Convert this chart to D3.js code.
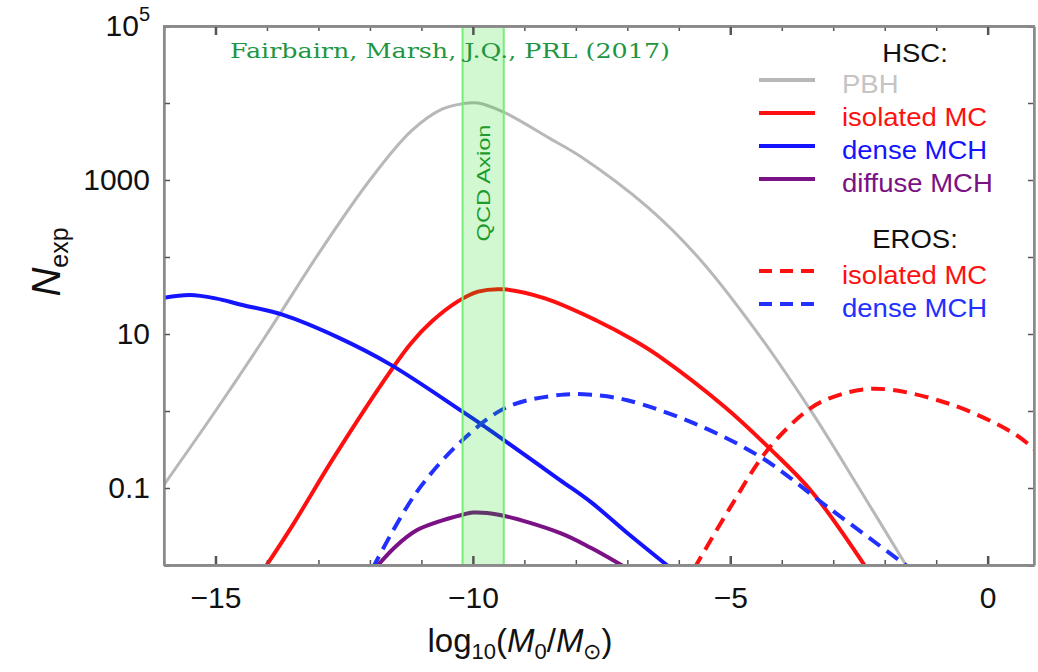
<!DOCTYPE html>
<html>
<head>
<meta charset="utf-8">
<script src="https://cdn.jsdelivr.net/npm/d3@7.9.0/dist/d3.min.js"></script>
<style>
  body { margin: 0; background: #fff; }
  svg { display: block; }
</style>
</head>
<body>
<svg id="chart" width="1038" height="672" font-family="Liberation Sans, Arial, sans-serif"></svg>
<script>
// HSC curves (solid)
const pbhX = [-16, -15, -14, -13, -12, -11.2, -10.6, -10.2, -9.9, -9.4, -8.5, -7.9, -6.6, -5.6, -4.5, -3.4, -2.5, -1.5];
const pbhN = [0.11, 1.0, 10, 110, 1000, 4300, 8300, 9800, 10000, 7600, 3450, 2000, 440, 95, 11, 0.93, 0.1, 0.008];

const isoX = [-14.05, -13.5, -12.7, -11.6, -11.2, -10.8, -10.3, -9.9, -9.4, -8.6, -7.6, -6.9, -6.4, -5.1, -4.2, -3.4, -2.35];
const isoN = [0.009, 0.033, 0.25, 3.3, 7.6, 14.5, 26.3, 35.5, 38, 29, 15, 8.5, 5.25, 1.12, 0.31, 0.087, 0.009];

const denseX = [-16, -15.5, -15, -14.5, -13.7, -12.6, -11.6, -10.2, -9.86, -8.3, -7.7, -7.0, -6.15];
const denseN = [29.5, 32, 29, 24, 17.8, 8.9, 4.0, 0.98, 0.69, 0.126, 0.065, 0.026, 0.009];

const diffX = [-11.9, -11.5, -11.1, -10.7, -10.2, -10.0, -9.5, -8.3, -7.7, -7.0];
const diffN = [0.009, 0.0174, 0.028, 0.036, 0.045, 0.048, 0.045, 0.026, 0.0166, 0.009];

// EROS curves (dashed)
const erosIsoX = [-5.7, -5.0, -4.28, -3.5, -3.05, -2.2, -0.78, 0.51, 0.95];
const erosIsoN = [0.009, 0.056, 0.31, 1.02, 1.48, 1.95, 1.26, 0.51, 0.30];

const erosDenseX = [-11.95, -11.1, -10.2, -9.34, -8.3, -7.7, -7.0, -5.7, -4.4, -3.1, -1.5];
const erosDenseN = [0.009, 0.087, 0.42, 1.12, 1.62, 1.62, 1.38, 0.69, 0.25, 0.056, 0.009];

const axionBand = [-10.2, -9.4];
const xMajorTicks = [-15, -10, -5, 0];
const yTicks = [0.01, 0.1, 1, 10, 100, 1000, 1e4, 1e5];
const yLabelled = [0.1, 10, 1000, 1e5];

const series = [
  { x: pbhX, n: pbhN, color: "#b8b8b8", width: 3, dash: null },
  { x: isoX, n: isoN, color: "#ff1010", width: 4, dash: null },
  { x: denseX, n: denseN, color: "#1414ff", width: 4, dash: null },
  { x: diffX, n: diffN, color: "#7a1184", width: 4, dash: null },
  { x: erosIsoX, n: erosIsoN, color: "#ff1010", width: 4, dash: "14,8" },
  { x: erosDenseX, n: erosDenseN, color: "#2230ff", width: 4, dash: "14,8" }
];

const legendHSC = [
  { label: "PBH", color: "#b8b8b8", text: "#c4c4c4", dash: null },
  { label: "isolated MC", color: "#ff1010", text: "#ff1010", dash: null },
  { label: "dense MCH", color: "#1414ff", text: "#1414ff", dash: null },
  { label: "diffuse MCH", color: "#7a1184", text: "#7a1184", dash: null }
];
const legendEROS = [
  { label: "isolated MC", color: "#ff1010", text: "#ff1010", dash: "13,8" },
  { label: "dense MCH", color: "#2230ff", text: "#2230ff", dash: "13,8" }
];

const svg = d3.select("#chart");
const pl = 164, pr = 1034, pt = 26, pb = 565;

const x = d3.scaleLinear().domain([-16, 0.9]).range([pl, pr]);
const y = d3.scaleLog().domain([0.01, 1e5]).range([pb, pt]);

// stretch text horizontally a bit, like the slide image
function stretch(sel, k) {
  sel.each(function () {
    const w = this.getComputedTextLength();
    d3.select(this).attr("textLength", w * k).attr("lengthAdjust", "spacingAndGlyphs");
  });
}

svg.append("clipPath").attr("id", "plotclip")
  .append("rect").attr("x", pl).attr("y", pt).attr("width", pr - pl).attr("height", pb - pt);

const plot = svg.append("g").attr("clip-path", "url(#plotclip)");

const line = d3.line()
  .x(d => x(d[0]))
  .y(d => y(d[1]))
  .curve(d3.curveCatmullRom.alpha(0.5));

series.forEach(s => {
  plot.append("path")
    .attr("d", line(d3.zip(s.x, s.n)))
    .attr("fill", "none")
    .attr("stroke", s.color)
    .attr("stroke-width", s.width)
    .attr("stroke-dasharray", s.dash);
});

// QCD axion band, drawn over the curves
plot.append("rect")
  .attr("x", x(axionBand[0]))
  .attr("width", x(axionBand[1]) - x(axionBand[0]))
  .attr("y", pt).attr("height", pb - pt)
  .attr("fill", "rgb(0,215,0)").attr("fill-opacity", 0.18);
axionBand.forEach(v => {
  plot.append("line")
    .attr("x1", x(v)).attr("x2", x(v))
    .attr("y1", pt).attr("y2", pb)
    .attr("stroke", "#77ee77").attr("stroke-width", 2);
});
const qcd = svg.append("text")
  .attr("transform", `translate(${(x(axionBand[0]) + x(axionBand[1])) / 2 + 7},183) rotate(-90)`)
  .attr("text-anchor", "middle")
  .attr("font-size", 19)
  .attr("fill", "#1f9a2c")
  .text("QCD Axion");
qcd.attr("textLength", 117).attr("lengthAdjust", "spacingAndGlyphs");

// axes
const axisColor = "#8a8a8a";
function styleAxis(g) {
  g.select(".domain").attr("stroke", axisColor).attr("stroke-width", 2.5);
  g.selectAll(".tick line").attr("stroke", "#555").attr("stroke-width", 1.5);
}

const minorX = d3.range(-16, 1).filter(v => !xMajorTicks.includes(v));

[["bottom", pb], ["top", pt]].forEach(([side, pos]) => {
  const mk = side === "bottom" ? d3.axisBottom : d3.axisTop;
  svg.append("g").attr("transform", `translate(0,${pos})`)
    .call(mk(x).tickValues(minorX).tickSize(-5).tickSizeOuter(0).tickFormat(""))
    .call(styleAxis);
  const g = svg.append("g").attr("transform", `translate(0,${pos})`)
    .call(mk(x).tickValues(xMajorTicks).tickSize(-9).tickSizeOuter(0).tickPadding(22)
      .tickFormat(d => side === "bottom" ? (d < 0 ? "\u2212" + (-d) : d) : ""))
    .call(styleAxis);
  g.selectAll(".tick line").attr("stroke-width", 2.5);
  g.selectAll("text").attr("font-size", 30).attr("fill", "#111")
    .attr("font-family", "Liberation Sans, Arial, sans-serif");
});

[["left", pl], ["right", pr]].forEach(([side, pos]) => {
  const mk = side === "left" ? d3.axisLeft : d3.axisRight;
  const g = svg.append("g").attr("transform", `translate(${pos},0)`)
    .call(mk(y).tickValues(yTicks).tickSize(-6).tickSizeOuter(0).tickPadding(14)
      .tickFormat(d => side === "left" && yLabelled.includes(d) ? (d >= 1 ? d3.format("d")(d) : String(d)) : ""))
    .call(styleAxis);
  g.selectAll("text").attr("font-size", 30).attr("fill", "#111")
    .attr("font-family", "Liberation Sans, Arial, sans-serif");
  if (side === "left") {
    g.selectAll(".tick").filter(d => d === 1e5).select("text")
      .text(null)
      .call(t => {
        t.append("tspan").text("10");
        t.append("tspan").attr("font-size", 20).attr("dy", "-0.75em").text("5");
      });
  }
});

// frame
svg.append("rect").attr("x", pl).attr("y", pt).attr("width", pr - pl).attr("height", pb - pt)
  .attr("fill", "none").attr("stroke", axisColor).attr("stroke-width", 2);

// citation
const cite = svg.append("text")
  .attr("x", 230).attr("y", 58)
  .attr("font-family", "DejaVu Serif, serif")
  .attr("font-size", 20)
  .attr("fill", "#1e9640")
  .text("Fairbairn, Marsh, J.Q., PRL (2017)");
cite.attr("textLength", 440).attr("lengthAdjust", "spacingAndGlyphs");

// legend
const lg = svg.append("g");
function legendBlock(title, items, titleY, startY, step) {
  const t = lg.append("text").attr("x", 915).attr("y", titleY).attr("text-anchor", "middle")
    .attr("font-size", 25).attr("fill", "#111").text(title);
  stretch(t, 1.1);
  items.forEach((d, i) => {
    const cy = startY + i * step;
    lg.append("line").attr("x1", 759).attr("x2", 815).attr("y1", cy).attr("y2", cy)
      .attr("stroke", d.color).attr("stroke-width", 4).attr("stroke-dasharray", d.dash);
    const tx = lg.append("text").attr("x", 842).attr("y", cy + 4).attr("dy", "0.35em")
      .attr("font-size", 25).attr("fill", d.text).text(d.label);
    stretch(tx, 1.1);
  });
}
legendBlock("HSC:", legendHSC, 62, 80, 33);
legendBlock("EROS:", legendEROS, 248, 271, 33);

// axis titles
const yl = svg.append("text")
  .attr("transform", "translate(60,262) rotate(-90)")
  .attr("text-anchor", "middle")
  .attr("fill", "#111");
yl.append("tspan").attr("font-size", 40).attr("font-style", "italic").text("N");
yl.append("tspan").attr("font-size", 25).attr("dy", "0.3em").text("exp");

const xl = svg.append("text")
  .attr("x", 520).attr("y", 652)
  .attr("text-anchor", "middle")
  .attr("fill", "#111")
  .attr("font-size", 33);
xl.append("tspan").text("log");
xl.append("tspan").attr("font-size", 22).attr("dy", "0.3em").text("10");
xl.append("tspan").attr("dy", "-0.2em").text("(");
xl.append("tspan").attr("font-style", "italic").text("M");
xl.append("tspan").attr("font-size", 22).attr("dy", "0.3em").text("0");
xl.append("tspan").attr("dy", "-0.2em").text("/");
xl.append("tspan").attr("font-style", "italic").text("M");
xl.append("tspan").attr("font-size", 22).attr("dy", "0.3em").text("\u2299");
xl.append("tspan").attr("dy", "-0.2em").text(")");
</script>
</body>
</html>
